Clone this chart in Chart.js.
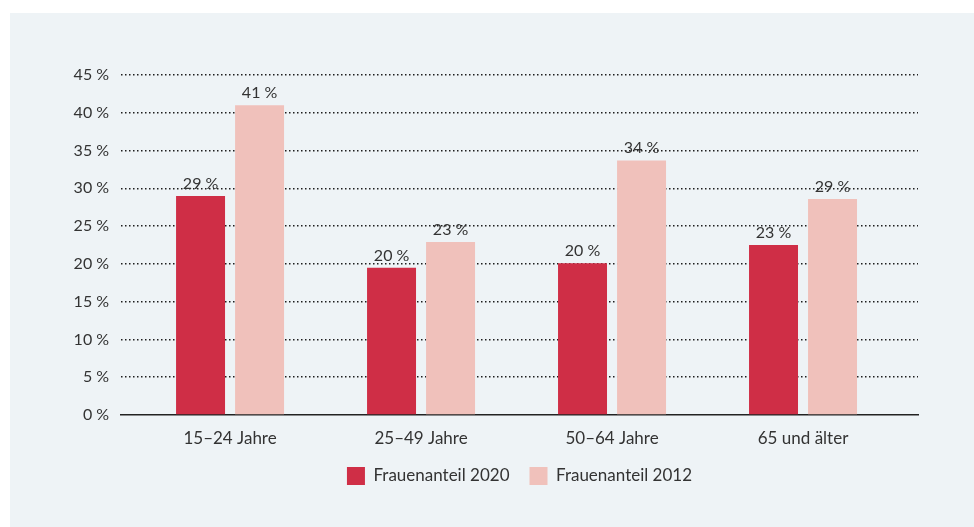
<!DOCTYPE html>
<html>
<head>
<meta charset="utf-8">
<script src="https://cdn.jsdelivr.net/npm/chart.js@4"></script>
<style>
  html, body { margin: 0; padding: 0; background: #ffffff; }
  #panel { position: absolute; left: 10px; top: 13px; width: 964px; height: 514px; background: #eef3f6; }
  #myChart { display: block; }
</style>
</head>
<body>
<div id="panel"><canvas id="myChart" width="964" height="514"></canvas></div>
<script>
"use strict";

const categories = ["15–24 Jahre", "25–49 Jahre", "50–64 Jahre", "65 und älter"];
const seriesNames = ["Frauenanteil 2020", "Frauenanteil 2012"];
const values2020 = [29.0, 19.5, 20.1, 22.5];
const values2012 = [41.0, 22.9, 33.7, 28.6];
const yTicks = [0, 5, 10, 15, 20, 25, 30, 35, 40, 45];

const textColor = "#333333";
const fontFamily = "Lato, 'Open Sans', sans-serif";

function pct(v) {
    return Math.round(v) + "\u202F%";
}

const valueLabels = {
    id: "valueLabels",
    afterDatasetsDraw(chart) {
        const ctx = chart.ctx;
        ctx.save();
        ctx.font = "16px " + fontFamily;
        ctx.fillStyle = textColor;
        ctx.textAlign = "center";
        ctx.textBaseline = "alphabetic";
        chart.data.datasets.forEach(function (ds, di) {
            chart.getDatasetMeta(di).data.forEach(function (bar, i) {
                ctx.fillText(pct(ds.data[i].y), bar.x, bar.y - 7);
            });
        });
        ctx.restore();
    }
};

const ctx = document.getElementById("myChart");
const chart = new Chart(ctx, {
    type: "bar",
    data: {
        datasets: [{
            label: seriesNames[0],
            data: values2020.map(function (v, i) { return { x: i, y: v }; }),
            backgroundColor: "#cf2e46",
            barPercentage: 0.83,
            categoryPercentage: 0.618
        }, {
            label: seriesNames[1],
            data: values2012.map(function (v, i) { return { x: i, y: v }; }),
            backgroundColor: "#f0c1bb",
            barPercentage: 0.83,
            categoryPercentage: 0.618
        }]
    },
    options: {
        responsive: false,
        animation: false,
        layout: { padding: { top: 62, right: 56, bottom: 32, left: 0 } },
        plugins: {
            tooltip: { enabled: false },
            legend: {
                position: "bottom",
                fullSize: false,
                labels: {
                    boxWidth: 18,
                    boxHeight: 18,
                    padding: 20,
                    color: textColor,
                    font: { family: fontFamily, size: 17 }
                }
            }
        },
        scales: {
            x: {
                type: "linear",
                offset: false,
                min: -0.571,
                max: 3.602,
                afterBuildTicks: function (scale) {
                    scale.ticks = categories.map(function (c, i) { return { value: i }; });
                },
                afterFit: function (scale) { scale.height = 32; },
                grid: { display: false, drawTicks: false },
                border: { display: true, color: "#222222", width: 1.5 },
                ticks: {
                    autoSkip: false,
                    maxRotation: 0,
                    padding: 13,
                    color: textColor,
                    font: { family: fontFamily, size: 17 },
                    callback: function (v) { return categories[v]; }
                }
            },
            y: {
                min: 0,
                max: 45,
                afterBuildTicks: function (scale) {
                    scale.ticks = yTicks.map(function (v) { return { value: v }; });
                },
                afterFit: function (scale) { scale.width = 111; },
                border: { display: false, dash: [1.5, 2.5] },
                grid: {
                    drawTicks: false,
                    lineWidth: 1.6,
                    color: function (c) { return c.tick && c.tick.value === 0 ? "rgba(0,0,0,0)" : "#1e1e1e"; }
                },
                ticks: {
                    padding: 12,
                    color: textColor,
                    font: { family: fontFamily, size: 16 },
                    callback: function (v) { return v + "\u202F%"; }
                }
            }
        }
    },
    plugins: [valueLabels]
});
</script>
</body>
</html>
